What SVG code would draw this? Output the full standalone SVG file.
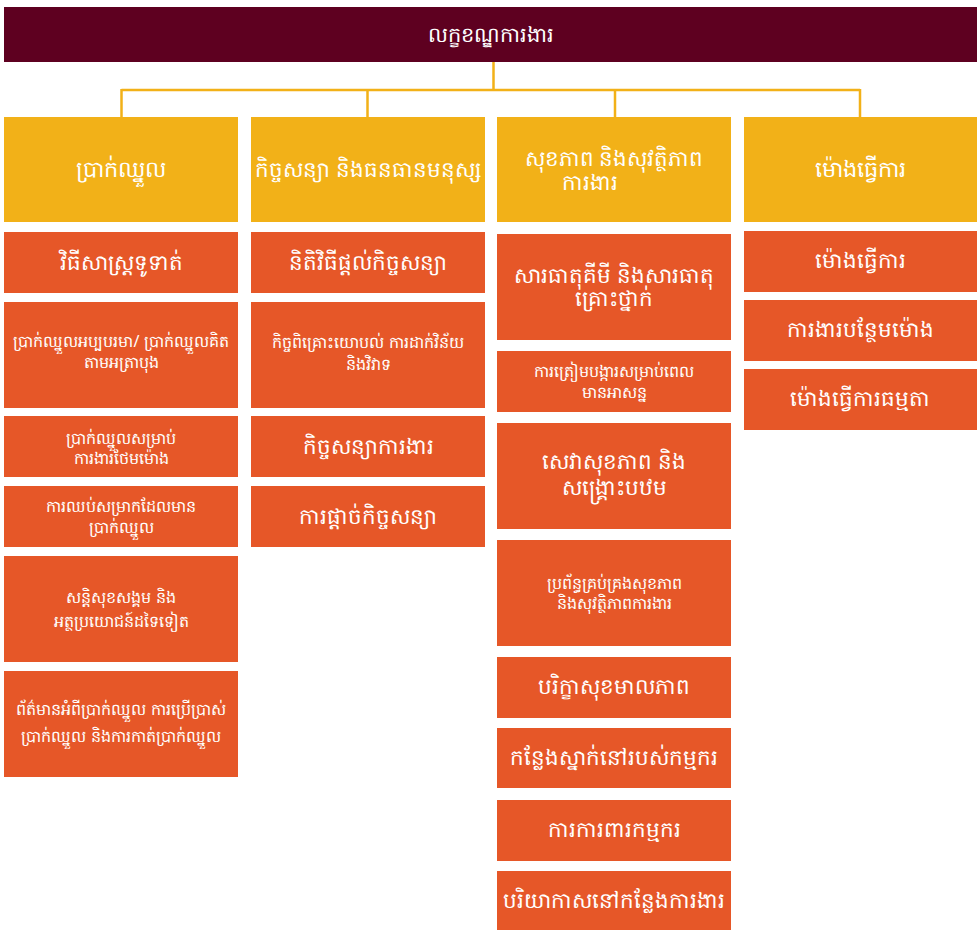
<svg xmlns="http://www.w3.org/2000/svg" width="977" height="930" viewBox="0 0 977 930">
<style>
text{font-family:"Noto Sans","DejaVu Sans",sans-serif;fill:#ffffff;text-anchor:middle}
.t{font-size:21px}
.h{font-size:22.5px}
.h2{font-size:21.5px}
.l{font-size:21.5px}
.s{font-size:16px}
.root{fill:#5e0020}
.hd{fill:#f2b118}
.ch{fill:#e65728}
.c{stroke:#f2b118;stroke-width:2.5;fill:none}
</style>
<rect width="977" height="930" fill="#ffffff"/>
<g id="connectors">
<path class="c" d="M493.5 62V90M121.5 90H860M121.5 89V117M367.5 89V117M615 89V117M860 89V117"/>
</g>
<g id="root"><rect class="root" x="4" y="7" width="973" height="55"/><text class="t" x="491" y="42">លក្ខខណ្ឌការងារ</text></g>
<g id="h1"><rect class="hd" x="4" y="117" width="234" height="105"/><text class="h" x="121" y="177">ប្រាក់ឈ្នួល</text></g>
<g id="h2"><rect class="hd" x="251" y="117" width="234" height="105"/><text class="h2" x="368" y="177">កិច្ចសន្យា និងធនធានមនុស្ស</text></g>
<g id="h3"><rect class="hd" x="497" y="117" width="234" height="105"/><text class="h2" x="614" y="166">សុខភាព និងសុវត្ថិភាព</text><text class="h2" x="590" y="190">ការងារ</text></g>
<g id="h4"><rect class="hd" x="744" y="117" width="233" height="105"/><text class="h" x="860" y="177">ម៉ោងធ្វើការ</text></g>

<g id="c1a"><rect class="ch" x="4" y="232" width="234" height="61"/><text class="l" x="121" y="270">វិធីសាស្រ្តទូទាត់</text></g>
<g id="c1b"><rect class="ch" x="4" y="302" width="234" height="106"/><text class="s" x="121" y="347">ប្រាក់ឈ្នួលអប្បបរមា/ ប្រាក់ឈ្នួលគិត</text><text class="s" x="121" y="368">តាមអត្រាបុង</text></g>
<g id="c1c"><rect class="ch" x="4" y="416" width="234" height="61"/><text class="s" x="121" y="444">ប្រាក់ឈ្នួលសម្រាប់</text><text class="s" x="121" y="464">ការងារថែមម៉ោង</text></g>
<g id="c1d"><rect class="ch" x="4" y="486" width="234" height="61"/><text class="s" x="121" y="512">ការឈប់សម្រាកដែលមាន</text><text class="s" x="121" y="533">ប្រាក់ឈ្នួល</text></g>
<g id="c1e"><rect class="ch" x="4" y="556" width="234" height="106"/><text class="s" x="121" y="603">សន្តិសុខសង្គម និង</text><text class="s" x="121" y="627">អត្ថប្រយោជន៍ដទៃទៀត</text></g>
<g id="c1f"><rect class="ch" x="4" y="671" width="234" height="106"/><text class="s" x="121" y="715">ព័ត៌មានអំពីប្រាក់ឈ្នួល ការប្រើប្រាស់</text><text class="s" x="121" y="742">ប្រាក់ឈ្នួល និងការកាត់ប្រាក់ឈ្នួល</text></g>

<g id="c2a"><rect class="ch" x="251" y="232" width="234" height="61"/><text class="l" x="368" y="270">និតិវិធីផ្ដល់កិច្ចសន្យា</text></g>
<g id="c2b"><rect class="ch" x="251" y="302" width="234" height="106"/><text class="s" x="368" y="348">កិច្ចពិគ្រោះយោបល់ ការដាក់វិន័យ</text><text class="s" x="368" y="370">និងវិវាទ</text></g>
<g id="c2c"><rect class="ch" x="251" y="416" width="234" height="61"/><text class="l" x="368" y="454">កិច្ចសន្យាការងារ</text></g>
<g id="c2d"><rect class="ch" x="251" y="486" width="234" height="61"/><text class="l" x="368" y="524">ការផ្ដាច់កិច្ចសន្យា</text></g>

<g id="c3a"><rect class="ch" x="497" y="234" width="234" height="106"/><text class="l" x="614" y="283">សារធាតុគីមី និងសារធាតុ</text><text class="l" x="614" y="306">គ្រោះថ្នាក់</text></g>
<g id="c3b"><rect class="ch" x="497" y="351" width="234" height="61"/><text class="s" x="614" y="377">ការត្រៀមបង្ការសម្រាប់ពេល</text><text class="s" x="614" y="398">មានអាសន្ន</text></g>
<g id="c3c"><rect class="ch" x="497" y="423" width="234" height="106"/><text class="l" x="614" y="469">សេវាសុខភាព និង</text><text class="l" x="614" y="495">សង្គ្រោះបឋម</text></g>
<g id="c3d"><rect class="ch" x="497" y="540" width="234" height="106"/><text class="s" x="614" y="589">ប្រព័ន្ធគ្រប់គ្រងសុខភាព</text><text class="s" x="614" y="609">និងសុវត្ថិភាពការងារ</text></g>
<g id="c3e"><rect class="ch" x="497" y="657" width="234" height="61"/><text class="l" x="614" y="694">បរិក្ខាសុខមាលភាព</text></g>
<g id="c3f"><rect class="ch" x="497" y="728" width="234" height="60"/><text class="l" x="614" y="765">កន្លែងស្នាក់នៅរបស់កម្មករ</text></g>
<g id="c3g"><rect class="ch" x="497" y="800" width="234" height="61"/><text class="l" x="614" y="837">ការការពារកម្មករ</text></g>
<g id="c3h"><rect class="ch" x="497" y="871" width="234" height="59"/><text class="l" x="614" y="908">បរិយាកាសនៅកន្លែងការងារ</text></g>

<g id="c4a"><rect class="ch" x="744" y="231" width="233" height="61"/><text class="l" x="860" y="268">ម៉ោងធ្វើការ</text></g>
<g id="c4b"><rect class="ch" x="744" y="300" width="233" height="61"/><text class="l" x="860" y="337">ការងារបន្ថែមម៉ោង</text></g>
<g id="c4c"><rect class="ch" x="744" y="369" width="233" height="61"/><text class="l" x="860" y="406">ម៉ោងធ្វើការធម្មតា</text></g>
</svg>
